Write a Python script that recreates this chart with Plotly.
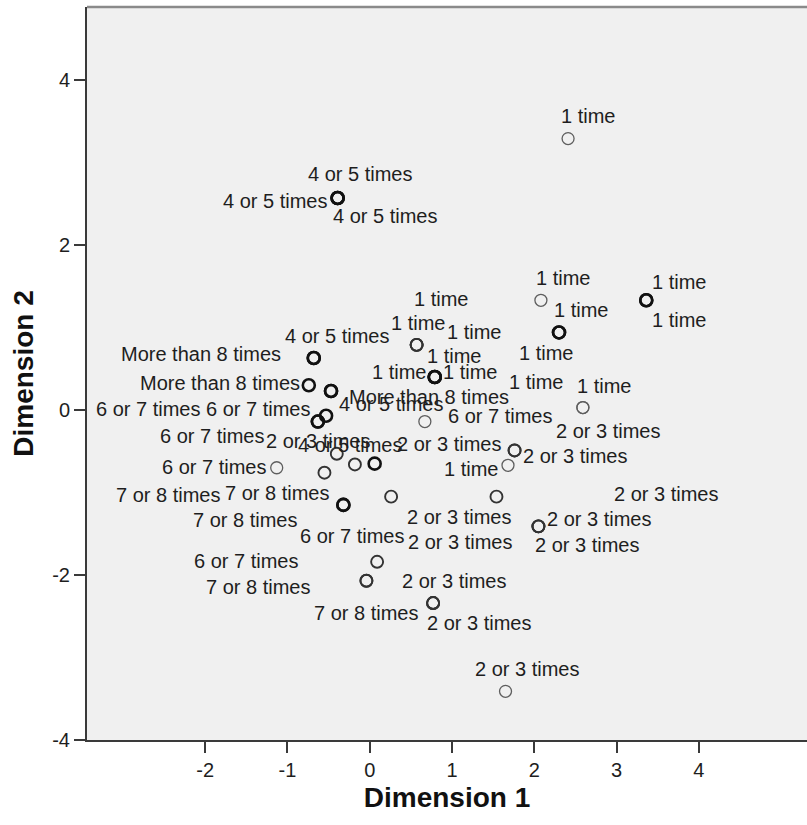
import plotly.graph_objects as go

# ---------------- data (one entry per object point) ----------------
dim1 = [2.41,
        -0.39, -0.39, -0.39,
        2.08,
        3.36, 3.36,
        2.30, 2.30,
        0.57, 0.57, 0.57,
        -0.68, -0.68,
        -0.74,
        -0.47, -0.47,
        0.79, 0.79, 0.79,
        -0.63, -0.63,
        -0.53,
        0.67,
        2.59, 2.59,
        -0.40,
        -0.18,
        0.06,
        -1.13,
        -0.55,
        -0.32, -0.32,
        0.26,
        1.54,
        1.76, 1.76,
        1.68,
        2.05, 2.05, 2.05,
        0.09,
        -0.04, -0.04,
        0.77, 0.77, 0.77,
        1.65]
dim2 = [3.29,
        2.57, 2.57, 2.57,
        1.33,
        1.33, 1.33,
        0.94, 0.94,
        0.79, 0.79, 0.79,
        0.63, 0.63,
        0.30,
        0.23, 0.23,
        0.40, 0.40, 0.40,
        -0.14, -0.14,
        -0.07,
        -0.14,
        0.03, 0.03,
        -0.53,
        -0.66,
        -0.65,
        -0.70,
        -0.76,
        -1.15, -1.15,
        -1.05,
        -1.05,
        -0.49, -0.49,
        -0.67,
        -1.41, -1.41, -1.41,
        -1.84,
        -2.07, -2.07,
        -2.34, -2.34, -2.34,
        -3.41]
labels = ["1 time",
          "4 or 5 times", "4 or 5 times", "4 or 5 times",
          "1 time",
          "1 time", "1 time",
          "1 time", "1 time",
          "1 time", "1 time", "1 time",
          "More than 8 times", "4 or 5 times",
          "More than 8 times",
          "More than 8 times", "4 or 5 times",
          "1 time", "1 time", "1 time",
          "6 or 7 times", "6 or 7 times",
          "6 or 7 times",
          "6 or 7 times",
          "1 time", "1 time",
          "4 or 5 times",
          "2 or 3 times",
          "2 or 3 times",
          "6 or 7 times",
          "7 or 8 times",
          "7 or 8 times", "7 or 8 times",
          "2 or 3 times",
          "2 or 3 times",
          "2 or 3 times", "2 or 3 times",
          "1 time",
          "2 or 3 times", "2 or 3 times", "2 or 3 times",
          "6 or 7 times",
          "6 or 7 times", "7 or 8 times",
          "7 or 8 times", "2 or 3 times", "2 or 3 times",
          "2 or 3 times"]

x_tickvals = [-2, -1, 0, 1, 2, 3, 4]
x_ticktext = ["-2", "-1", "0", "1", "2", "3", "4"]
y_tickvals = [-4, -2, 0, 2, 4]
y_ticktext = ["-4", "-2", "0", "2", "4"]
x_title = "Dimension 1"
y_title = "Dimension 2"

# ---------------- style: label offsets (px) and marker stroke ----------------
label_dx = [20,
            22, -62.5, 47,
            22,
            33, 33,
            22, -12.6,
            24, 1, 57,
            -112.7, 23,
            -89,
            98.3, 59.5,
            19.5, -36.2, 35.3,
            -60, -105.8,
            -177.7,
            75,
            21, -46.6,
            13,
            -36.7,
            74.2,
            -62.5,
            -47.5,
            -175.8, -98.3,
            68.3,
            -36.7,
            60.8, 93.3,
            -36.6,
            61, 48.4, 127.5,
            -25.2,
            -120, -108.4,
            -67.5, 46.4, 21,
            21.3]
label_dy = [-23,
            -24, 3.5, 18.5,
            -22,
            -18, 20,
            -22, 20.6,
            -45.7, -21.7, -13.3,
            -4.4, -21.7,
            -2.7,
            6, 13.3,
            -20.6, -5, -5,
            -12.7, 14,
            -7,
            -5.7,
            -21.7, -25.4,
            -9,
            -23.3,
            -19.3,
            -0.6,
            20.6,
            -10, 15,
            20.6,
            45,
            6, -19,
            4,
            -7.7, 19, -32.7,
            -25.7,
            -20, 6.6,
            10, 20, -22,
            -22.7]
weight = ["t",
          "b", "b", "b",
          "t",
          "b", "b",
          "b", "b",
          "m", "m", "m",
          "b", "b",
          "b",
          "b", "b",
          "b", "b", "b",
          "b", "b",
          "b",
          "t",
          "t", "t",
          "m",
          "m",
          "b",
          "t",
          "m",
          "b", "b",
          "m",
          "m",
          "m", "m",
          "t",
          "m", "m", "m",
          "m",
          "m", "m",
          "m", "m", "m",
          "t"]
stroke_w = {"t": 1.3, "m": 1.9, "b": 2.6}
stroke_c = {"t": "#5e5e5e", "m": "#333333", "b": "#111111"}

FONT = "Liberation Sans, Arial, sans-serif"

fig = go.Figure()
fig.add_trace(go.Scatter(
    x=dim1, y=dim2, mode="markers",
    marker=dict(symbol="circle-open", size=12,
                color=[stroke_c[w] for w in weight],
                line=dict(width=[stroke_w[w] for w in weight])),
    hoverinfo="skip", showlegend=False,
))

for xv, yv, lab, dx, dy in zip(dim1, dim2, labels, label_dx, label_dy):
    fig.add_annotation(x=xv, y=yv, text=lab, showarrow=False,
                       xshift=dx, yshift=-dy, xanchor="center", yanchor="middle",
                       font=dict(family=FONT, size=20, color="#1e1e1e"))

axis_common = dict(showgrid=False, zeroline=False, showline=True,
                   linecolor="#3a3a3a", linewidth=2, ticks="outside",
                   ticklen=11, tickwidth=2, tickcolor="#3a3a3a",
                   tickfont=dict(family=FONT, size=20, color="#1e1e1e"),
                   mirror=False)

fig.update_layout(
    width=807, height=825,
    margin=dict(l=87, r=0, t=7, b=85),
    paper_bgcolor="white", plot_bgcolor="#f0f0f0",
    xaxis=dict(range=[-3.435, 5.313], tickvals=x_tickvals, ticktext=x_ticktext,
               title=dict(text=x_title, standoff=7,
                          font=dict(family=FONT, size=28, color="#111111", weight="bold")),
               **axis_common),
    yaxis=dict(range=[-4, 4.885], tickvals=y_tickvals, ticktext=y_ticktext,
               title=dict(text=y_title, standoff=10,
                          font=dict(family=FONT, size=28, color="#111111", weight="bold")),
               **axis_common),
)
fig.add_shape(type="line", xref="paper", yref="paper", x0=0, x1=1, y0=1, y1=1,
              line=dict(color="#8a8a8a", width=2.5))

fig.write_html("out.html")
